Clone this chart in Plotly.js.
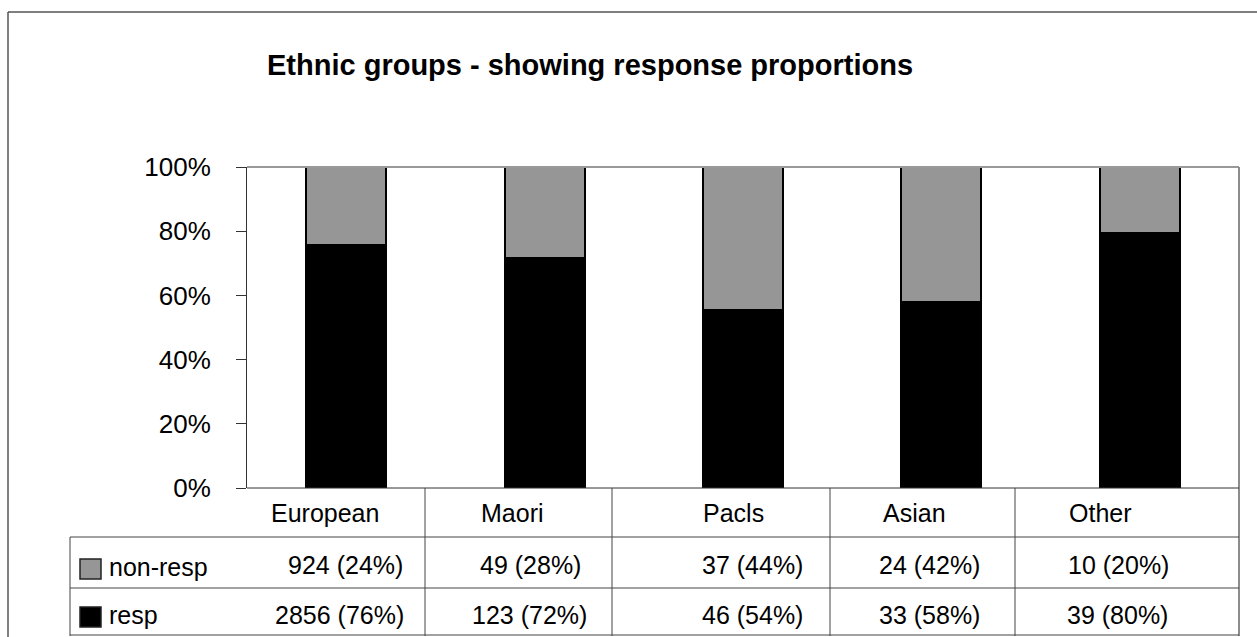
<!DOCTYPE html>
<html>
<head>
<meta charset="utf-8">
<script src="https://cdn.plot.ly/plotly-3.0.1.min.js"></script>
<style>
html,body{margin:0;padding:0;background:#fff;}
#chart{width:1257px;height:637px;}
</style>
</head>
<body>
<div id="chart"></div>
<script>
// ---- data ----
const categories = ["European", "Maori", "Pacls", "Asian", "Other"];
const respCounts = [2856, 123, 46, 33, 39];
const nonRespCounts = [924, 49, 37, 24, 10];
const respPct = [76, 72, 54, 58, 80];
const nonRespPct = [24, 28, 44, 42, 20];
const seriesNames = ["resp", "non-resp"];
const yTickVals = [0, 20, 40, 60, 80, 100];
const yTickText = ["0%", "20%", "40%", "60%", "80%", "100%"];
const title = "Ethnic groups - showing response proportions";

// ---- layout constants (pixels) ----
const W = 1257, H = 637;
const L = 247, R = 1239, T = 167, B = 488;
const FONT = '"Liberation Sans", Arial, sans-serif';
const respColor = "#000000", nonRespColor = "#969696";
const xp = px => (px - L) / (R - L);
const yp = py => (B - py) / (B - T);

// table geometry
const colEdges = [425, 612, 830, 1015];
const rowLines = [537, 588, 635];
const tableLeft = 70;
const catRowY = 513, nonRespRowY = 565, respRowY = 615;
const catShift = [-21, -32, -10, -27, -39];
const nonRespShift = [-1, -14, 9, -12, -21];
const respShift = [-7, -15, 9, -12, -22];

const traces = [
  {type: "bar", name: seriesNames[0], x: categories, y: respCounts,
   marker: {color: respColor, line: {color: "#000", width: 2}}, hoverinfo: "skip"},
  {type: "bar", name: seriesNames[1], x: categories, y: nonRespCounts,
   marker: {color: nonRespColor, line: {color: "#000", width: 2}}, hoverinfo: "skip"}
];

const line = (x0, y0, x1, y1, color, width) => ({
  type: "line", xref: "paper", yref: "paper",
  x0: xp(x0), y0: yp(y0), x1: xp(x1), y1: yp(y1),
  line: {color: color, width: width}
});

const shapes = [];
// outer chart border
shapes.push(line(8, 12, 1257, 12, "#555", 1.5));
shapes.push(line(8, 12, 8, 637, "#555", 1.5));
// plot area top & right border
shapes.push(line(L, T, R, T, "#999", 2));
shapes.push(line(R, T, R, 636, "#8c8c8c", 2));
// table lines
shapes.push(line(L, B, R, B, "#333", 1));
rowLines.forEach(y => shapes.push(line(tableLeft, y, R, y, "#444", 1)));
shapes.push(line(tableLeft, rowLines[0], tableLeft, 636, "#444", 1));
colEdges.forEach(x => shapes.push(line(x, B, x, 636, "#444", 1)));
// legend keys
const key = (x0, y0, color) => ({
  type: "rect", xref: "paper", yref: "paper",
  x0: xp(x0), x1: xp(x0 + 21), y0: yp(y0), y1: yp(y0 + 20),
  fillcolor: color, line: {color: "#222", width: 1.5}
});
shapes.push(key(80, 559, nonRespColor));
shapes.push(key(80, 607, respColor));

const annotations = [];
const tfont = {family: FONT, size: 25, color: "#000"};
categories.forEach((c, i) => {
  annotations.push({xref: "x", yref: "paper", x: c, y: yp(catRowY), xshift: catShift[i],
    text: c, showarrow: false, font: tfont, xanchor: "center", yanchor: "middle"});
  annotations.push({xref: "x", yref: "paper", x: c, y: yp(nonRespRowY), xshift: nonRespShift[i],
    text: nonRespCounts[i] + " (" + nonRespPct[i] + "%)", showarrow: false, font: tfont,
    xanchor: "center", yanchor: "middle"});
  annotations.push({xref: "x", yref: "paper", x: c, y: yp(respRowY), xshift: respShift[i],
    text: respCounts[i] + " (" + respPct[i] + "%)", showarrow: false, font: tfont,
    xanchor: "center", yanchor: "middle"});
});
annotations.push({xref: "paper", yref: "paper", x: xp(107), y: yp(567), text: seriesNames[1],
  showarrow: false, font: tfont, xanchor: "left", yanchor: "middle"});
annotations.push({xref: "paper", yref: "paper", x: xp(107), y: yp(615), text: seriesNames[0],
  showarrow: false, font: tfont, xanchor: "left", yanchor: "middle"});

const layout = {
  width: W, height: H,
  margin: {l: L, r: W - R, t: T, b: H - B, pad: 0},
  paper_bgcolor: "#fff", plot_bgcolor: "#fff",
  barmode: "stack", barnorm: "percent", bargap: 0.597,
  showlegend: false,
  font: {family: FONT, color: "#000"},
  title: {text: "<b>" + title + "</b>", font: {family: FONT, size: 29, color: "#000"},
          x: xp(267), xanchor: "left", y: 1 - 65 / H, yanchor: "middle", xref: "paper", yref: "container"},
  xaxis: {type: "category", range: [-0.5, 4.5], showticklabels: false, ticks: "",
          showline: false, showgrid: false, zeroline: false, fixedrange: true},
  yaxis: {range: [0, 100], tickmode: "array", tickvals: yTickVals, ticktext: yTickText,
          ticks: "outside", ticklen: 10, tickwidth: 1, tickcolor: "#333",
          showline: true, linecolor: "#333", linewidth: 1,
          showgrid: false, zeroline: false, ticklabelstandoff: 20,
          tickfont: {family: FONT, size: 26, color: "#000"}, fixedrange: true},
  shapes: shapes,
  annotations: annotations
};

Plotly.newPlot("chart", traces, layout, {displayModeBar: false, staticPlot: true});
</script>
</body>
</html>
